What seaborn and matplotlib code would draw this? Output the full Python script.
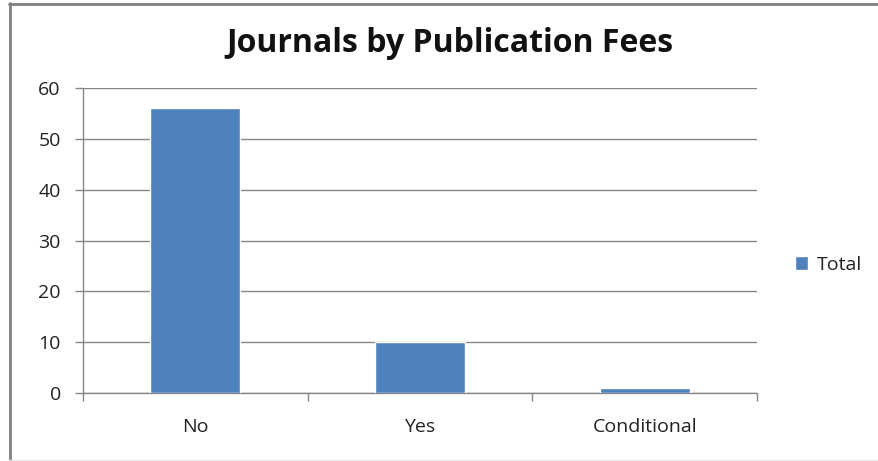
import matplotlib
matplotlib.use("Agg")
import matplotlib.pyplot as plt
from matplotlib.lines import Line2D
import seaborn as sns
import pandas as pd

# Journal counts by publication fee status
categories = ["No", "Yes", "Conditional"]
totals = [56, 10, 1]
series_name = "Total"
title = "Journals by Publication Fees"
y_ticks = [0, 10, 20, 30, 40, 50, 60]

df = pd.DataFrame({"fee": categories, "count": totals})

sns.set_theme(style="white")
plt.rcParams["font.family"] = ["Open Sans", "DejaVu Sans"]

W, H = 879, 461
fig = plt.figure(figsize=(W / 100, H / 100), dpi=100)
ax = fig.add_axes([83 / W, 1 - 393 / H, (757 - 83) / W, (393 - 88) / H])

sns.barplot(data=df, x="fee", y="count", color="#4F81BD", width=0.4,
            saturation=1, label=series_name, ax=ax, zorder=3)

ax.set_ylim(0, 60)
ax.set_xlim(-0.5, 2.5)
ax.set_yticks(y_ticks)
ax.set_xlabel("")
ax.set_ylabel("")

grey = "#868686"
txt = "#222222"
fs = 14
ax.yaxis.grid(True, color=grey, linewidth=1, zorder=0)
ax.set_axisbelow(True)
for side in ["top", "right"]:
    ax.spines[side].set_visible(False)
for side in ["left", "bottom"]:
    ax.spines[side].set_color(grey)
    ax.spines[side].set_linewidth(1)

ax.tick_params(axis="y", which="major", length=6, width=1, color=grey,
               labelsize=fs, labelcolor=txt, pad=10, left=True)
ax.tick_params(axis="x", which="major", length=0, labelsize=fs,
               labelcolor=txt, pad=18)
ax.set_xticks([-0.5, 0.5, 1.5, 2.5], minor=True)
ax.tick_params(axis="x", which="minor", length=6, width=1, color=grey,
               bottom=True)

ax.legend(loc="center left", bbox_to_anchor=(1.03, 0.42), frameon=False,
          fontsize=fs, handlelength=0.7, handleheight=0.7,
          handletextpad=0.45, labelcolor=txt)

fig.text(450 / W, 1 - 44 / H, title, ha="center", va="center",
         fontsize=23, fontweight="bold", color="#111111")

# Outer frame
fig.add_artist(Line2D([9.5 / W, 9.5 / W], [0, 1 - 3 / H], transform=fig.transFigure,
                      color="#808080", linewidth=2))
fig.add_artist(Line2D([9 / W, 1], [1 - 4 / H, 1 - 4 / H], transform=fig.transFigure,
                      color="#808080", linewidth=2))
fig.add_artist(Line2D([9 / W, 1], [1.0 / H, 1.0 / H], transform=fig.transFigure,
                      color="#e8e8e8", linewidth=1))

fig.savefig("out.png", dpi=100)
